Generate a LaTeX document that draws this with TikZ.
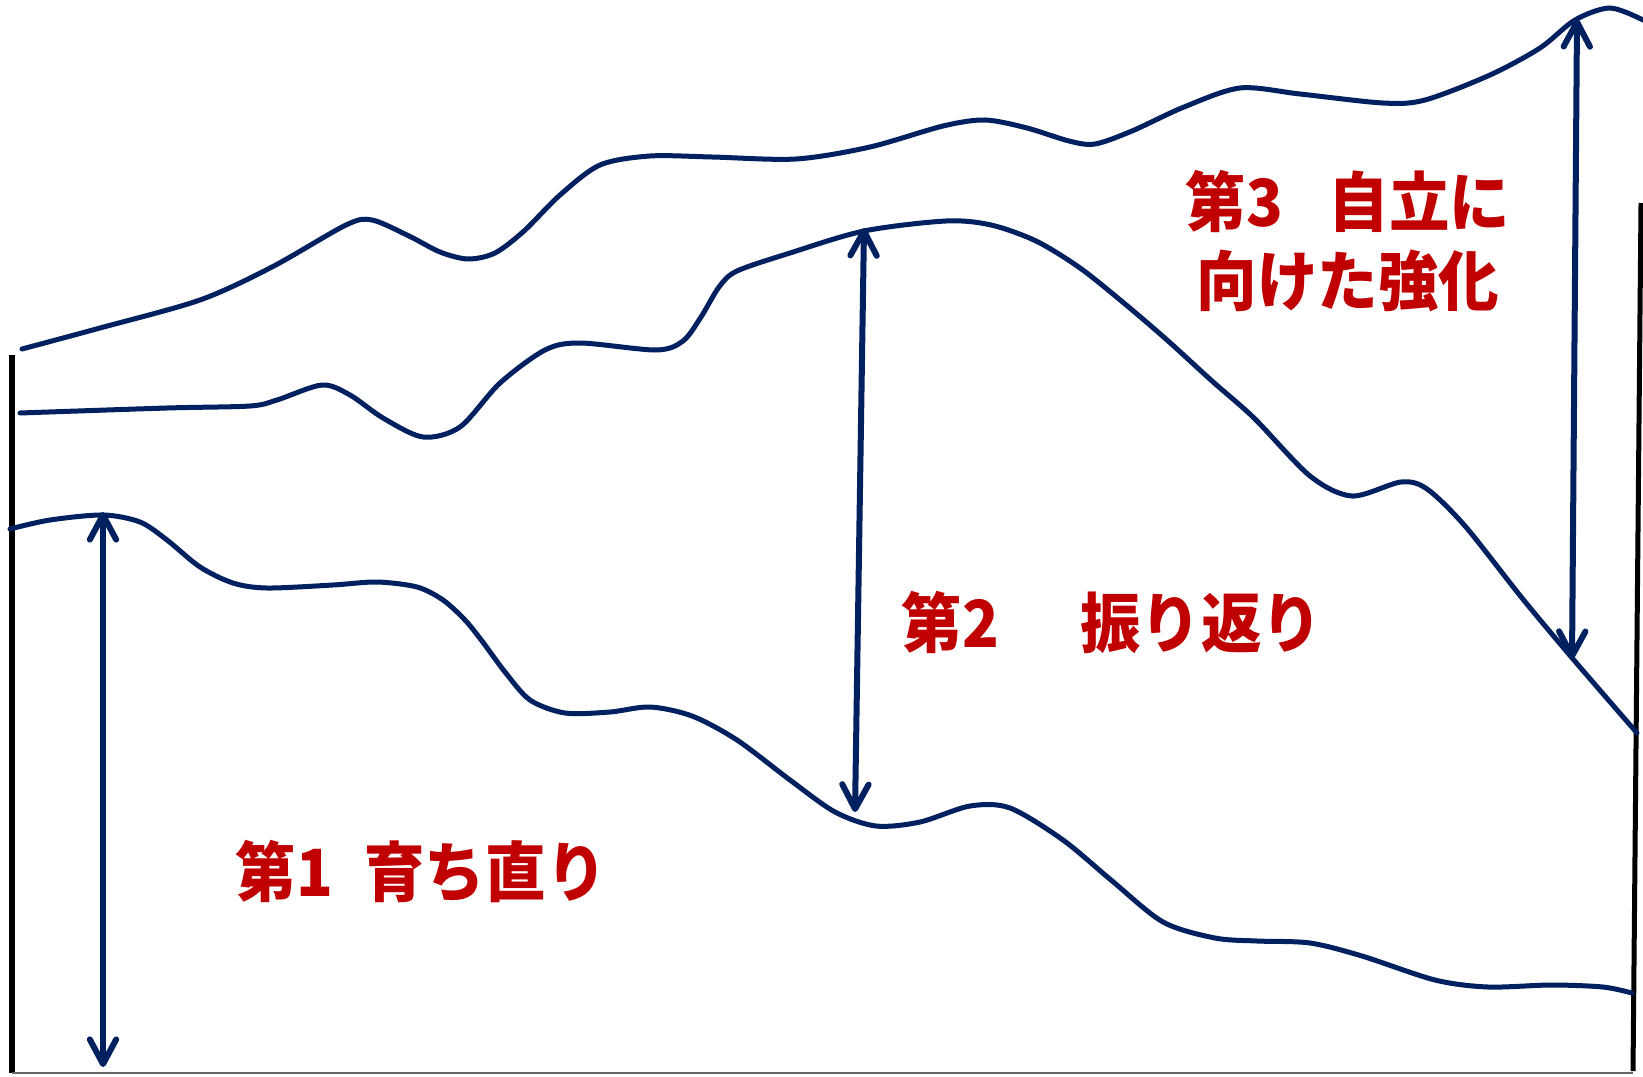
\documentclass[tikz,border=0pt]{standalone}
\usepackage{fontspec}
\newfontfamily\jpfont{Noto Sans CJK JP}[FakeStretch=0.93]
\usepackage{tikz}
\usetikzlibrary{arrows.meta, positioning}
\definecolor{navy}{RGB}{0,32,96}
\definecolor{phasered}{RGB}{192,0,0}

\begin{document}
\begin{tikzpicture}[
    x=0.01cm, y=-0.01cm,
    frame/.style={
        black,
        line width=0.05cm,
    },
    wave/.style={
        navy,
        line width=0.05cm,
        line cap=round,
    },
    span/.style={
        navy,
        line width=0.06cm,
        {Straight Barb[length=7pt, width=7.5pt, round]}-{Straight Barb[length=7pt, width=7.5pt, round]},
    },
    phase/.style={
        text=phasered,
        font=\jpfont\bfseries\fontsize{18.5}{22.5}\selectfont,
        align=center,
        inner sep=0pt,
    }
]
    \useasboundingbox (0,0) rectangle (1643,1076);

    % Frame
    \draw[frame] (12,355) -- (12,1073);
    \draw[black!60, line width=0.02cm] (12,1073) -- (1633,1073);
    \draw[frame] (1641,203) -- (1633,1071);

    % Lower wave
    \draw[wave] plot[smooth, tension=0.5] coordinates {
        (10,529) (50,520) (103,515) (140,522) (167,540) (200,567) (233,583)
        (267,588) (333,585) (377,582) (417,587) (443,600) (465,620) (482,641)
        (505,672) (530,700) (565,713) (610,712) (650,707) (692,716) (737,740)
        (790,780) (835,812) (876,826) (920,822) (970,806) (1010,808) (1063,840)
        (1111,880) (1163,922) (1215,938) (1257,941) (1310,943) (1362,956)
        (1435,980) (1488,987) (1551,985) (1603,987) (1632,993)};

    % Middle wave
    \draw[wave] plot[smooth, tension=0.5] coordinates {
        (20,413) (167,408) (250,406) (277,400) (322,385) (350,395) (383,418)
        (423,437) (460,427) (500,383) (545,350) (580,343) (656,350) (683,341)
        (701,317) (719,287) (737,271) (790,253) (864,231) (946,221) (991,225)
        (1036,241) (1080,268) (1125,304) (1167,340) (1212,381) (1254,418)
        (1310,476) (1352,496) (1401,482) (1427,489) (1465,526) (1522,598)
        (1573,659) (1637,733)};

    % Upper wave
    \draw[wave] plot[smooth, tension=0.5] coordinates {
        (22,349) (100,328) (200,300) (272,267) (346,225) (372,220) (409,236)
        (440,252) (468,259) (495,253) (524,231) (560,195) (600,165) (650,156)
        (712,157) (796,159) (870,147) (943,126) (985,120) (1027,128) (1069,141)
        (1095,144) (1132,131) (1184,107) (1240,88) (1300,94) (1383,103)
        (1425,100) (1490,75) (1540,48) (1575,20) (1610,8) (1643,20)};

    % Spans
    \coordinate (firstlow) at (103,1067);
    \coordinate (firsthigh) at (103,512);
    \coordinate (secondlow) at (855,812);
    \coordinate (secondhigh) at (864,228);
    \coordinate (thirdlow) at (1572,659);
    \coordinate (thirdhigh) at (1577,19);
    \draw[span] (firstlow) -- (firsthigh);
    \draw[span] (secondlow) -- (secondhigh);
    \draw[span] (thirdlow) -- (thirdhigh);

    % Phase labels
    \node[phase] (first) at (421,872) {第1\hspace{9pt}育ち直り};
    \node[phase] (second) at (1112,622) {第2\hspace{23pt}振り返り};
    \node[phase] (third) at (1348,241) {第3\hspace{13pt}自立に\\向けた強化};
\end{tikzpicture}
\end{document}
